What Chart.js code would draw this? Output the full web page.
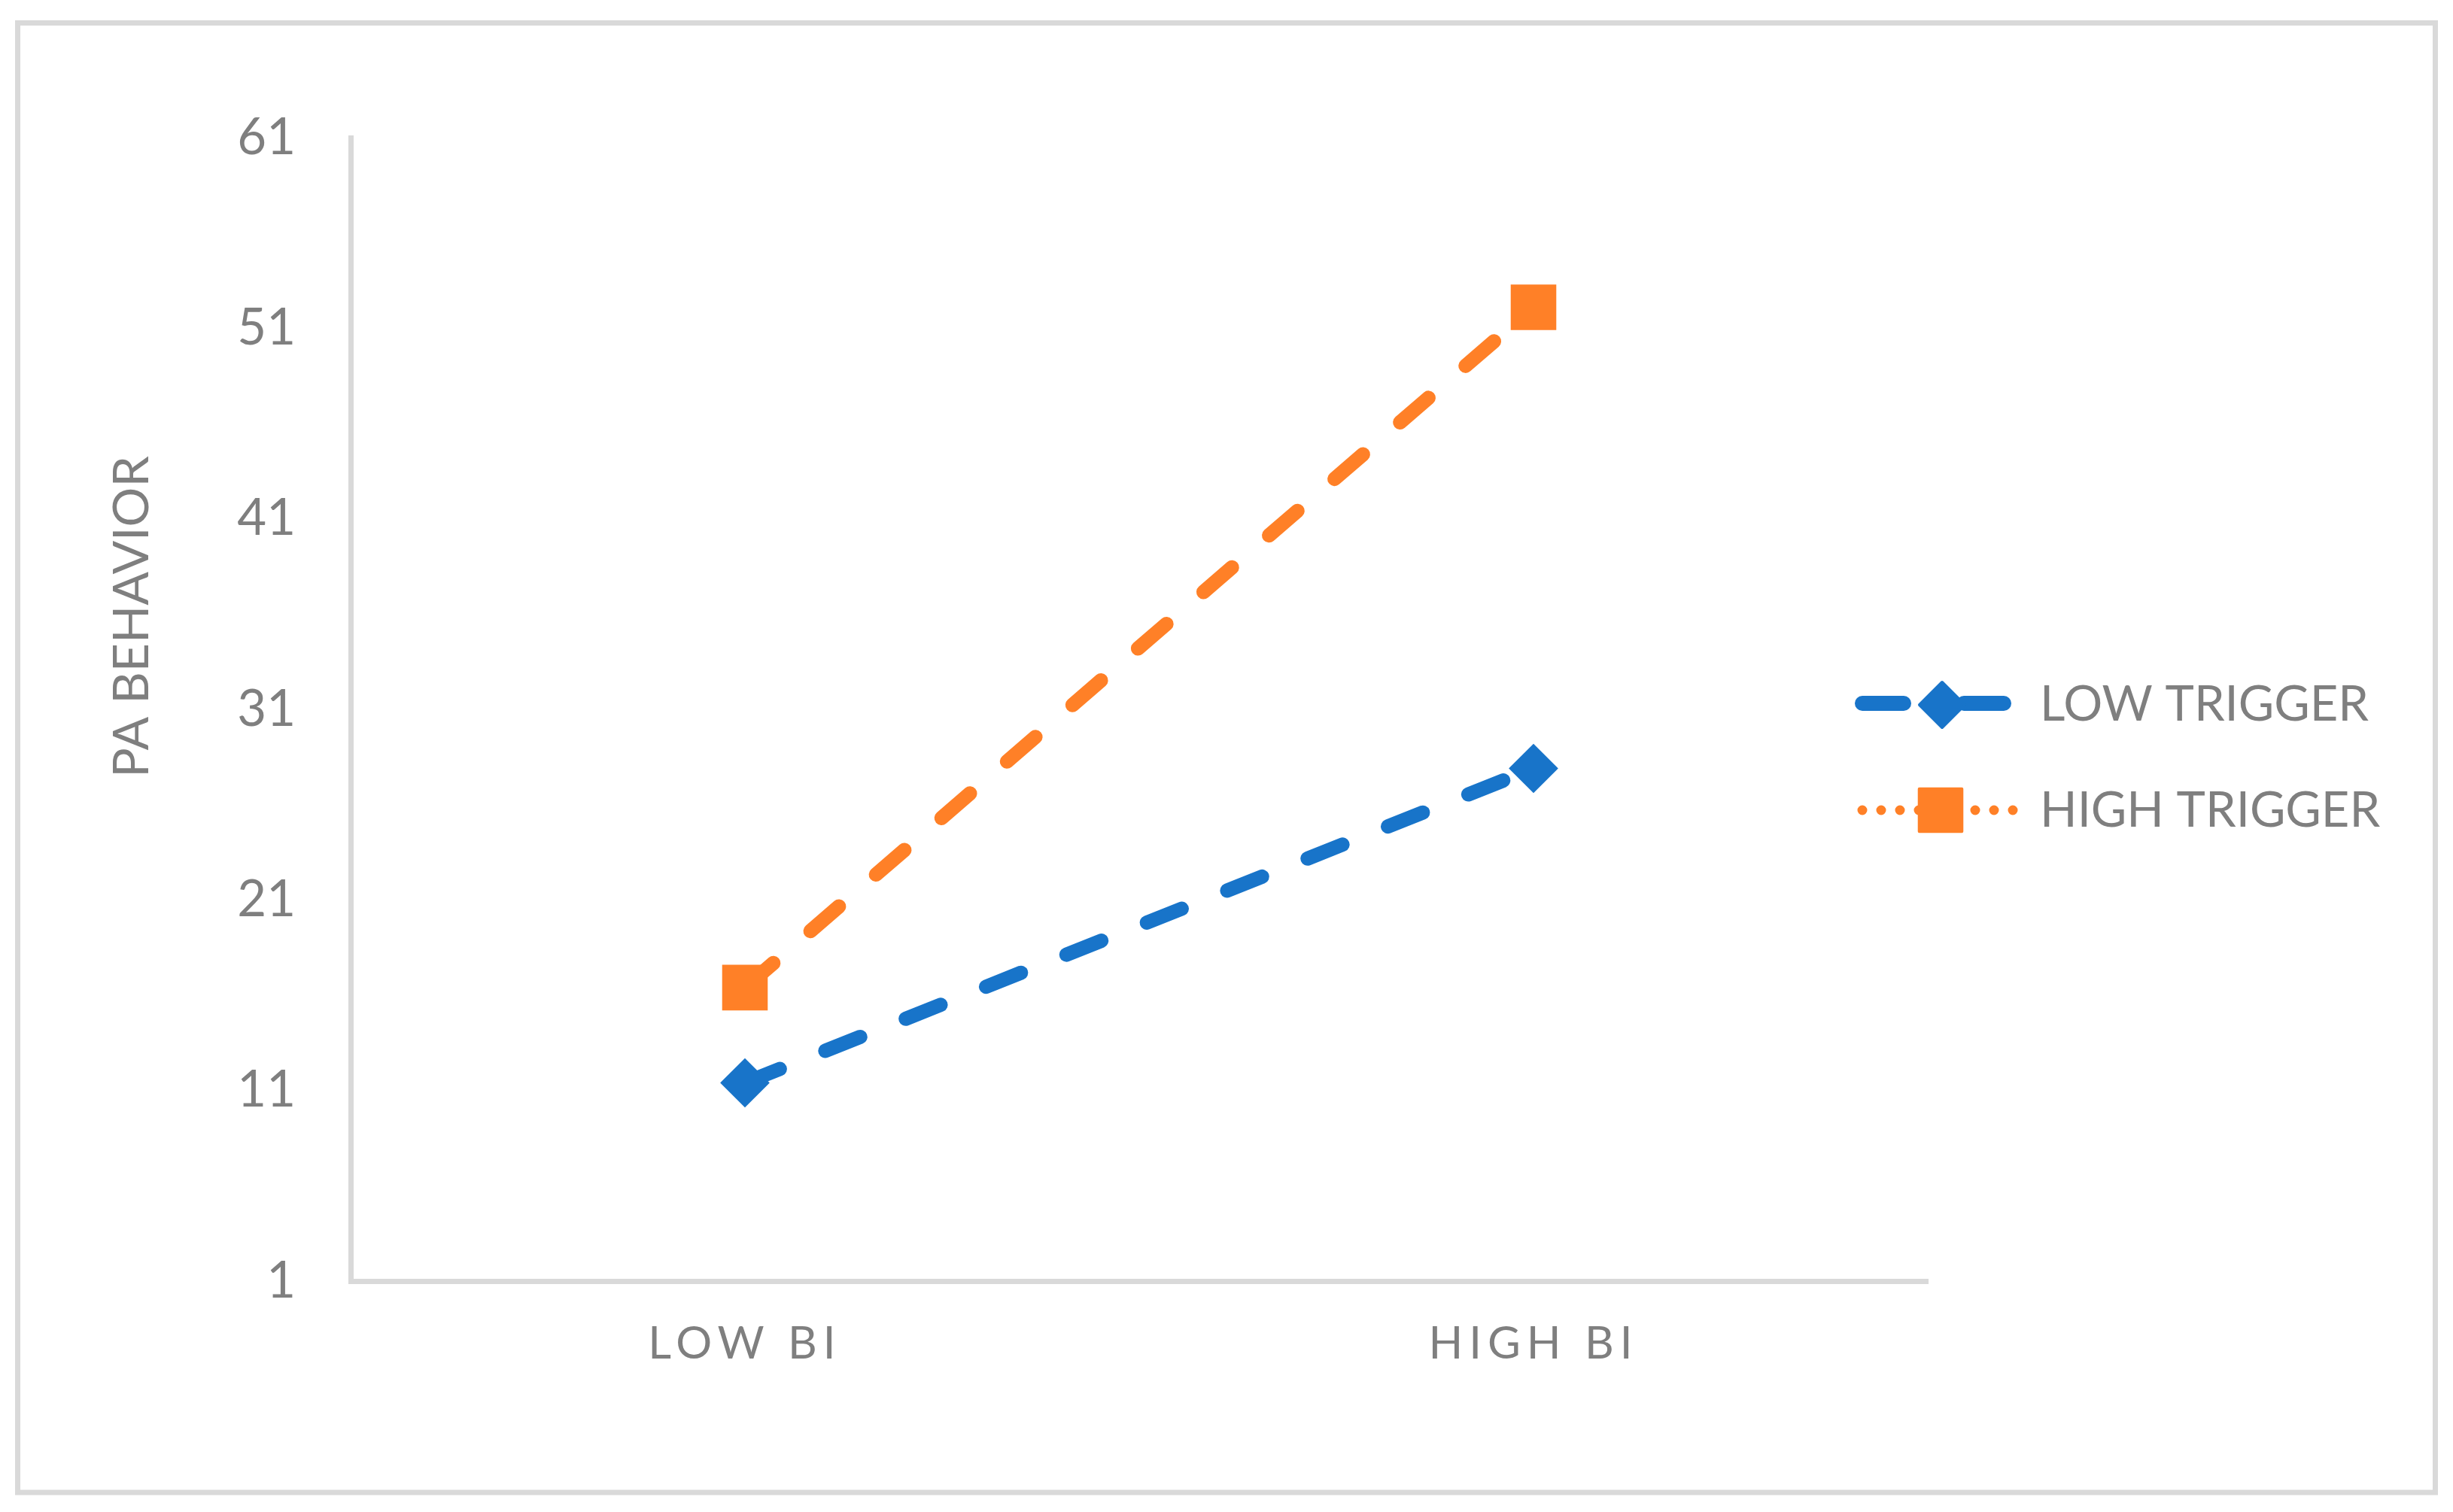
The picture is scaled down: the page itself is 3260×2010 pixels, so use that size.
<!DOCTYPE html>
<html><head><meta charset="utf-8">
<script src="https://cdn.jsdelivr.net/npm/chart.js@4.4.1/dist/chart.umd.min.js"></script>
<style>html,body{margin:0;padding:0;background:#fff;overflow:hidden;} canvas{display:block;}</style>
</head><body>
<canvas id="c" width="3260" height="2010"></canvas>
<script>
// ---- data ----
const categories = ['LOW BI', 'HIGH BI'];
const seriesNames = ['LOW TRIGGER', 'HIGH TRIGGER'];
const lowTrigger = [11.4, 27.9];
const highTrigger = [16.4, 52.1];
const yTicks = [1, 11, 21, 31, 41, 51, 61];
const yTitle = 'PA BEHAVIOR';

// ---- style ----
const BLUE = '#1874C9', ORANGE = '#FF8027', GRAY = '#7F7F7F', LINE = '#D9D9D9';
const FONT = 'Lato, "Open Sans", sans-serif';
Chart.defaults.font.family = FONT;
Chart.defaults.color = GRAY;

const legendStyles = [
  { dash: [55, 80], width: 20, from: 2475, to: 2663, y: 935, px: 2581, py: 937, textY: 958 },
  { dash: [0, 25], width: 13, from: 2475, to: 2676, y: 1077, px: 2579, py: 1077, textY: 1099 }
];

function drawMarker(ctx, style, r, x, y) {
  if (Chart.helpers && Chart.helpers.drawPoint) {
    Chart.helpers.drawPoint(ctx, { pointStyle: style, radius: r, borderWidth: 4, rotation: 0 }, x, y);
    return;
  }
  ctx.beginPath();
  if (style === 'rectRot') {
    ctx.moveTo(x - r, y); ctx.lineTo(x, y - r); ctx.lineTo(x + r, y); ctx.lineTo(x, y + r);
  } else {
    const s = r * Math.SQRT1_2; ctx.rect(x - s, y - s, 2 * s, 2 * s);
  }
  ctx.closePath(); ctx.fill(); ctx.stroke();
}

const framePlugin = {
  id: 'frame',
  beforeDraw(chart) {
    const ctx = chart.ctx;
    ctx.save();
    ctx.fillStyle = '#FFFFFF';
    ctx.fillRect(0, 0, chart.width, chart.height);
    ctx.strokeStyle = LINE;
    ctx.lineWidth = 7;
    ctx.strokeRect(23.5, 30.5, 3213, 1953.5);
    ctx.restore();
  },
  afterLayout(chart) {
    const s = chart.scales.x;
    if (s && !s._lsPatched) {
      const orig = s.drawLabels.bind(s);
      s.drawLabels = function (ca) {
        const ctx = this.ctx;
        ctx.save();
        try { ctx.letterSpacing = '8px'; } catch (e) {}
        orig(ca);
        ctx.restore();
      };
      s._lsPatched = true;
    }
  },
  afterDraw(chart) {
    const ctx = chart.ctx;
    const ca = chart.chartArea;
    // y-axis title
    ctx.save();
    ctx.fillStyle = GRAY;
    ctx.font = '66px ' + FONT;
    ctx.textAlign = 'center';
    ctx.textBaseline = 'alphabetic';
    ctx.translate(197, ca.top + (ca.bottom - ca.top) / 2 - 123);
    ctx.rotate(-Math.PI / 2);
    ctx.fillText(yTitle, 0, 0);
    ctx.restore();
    // legend
    chart.data.datasets.forEach((ds, i) => {
      const st = legendStyles[i];
      ctx.save();
      ctx.strokeStyle = ds.borderColor;
      ctx.lineWidth = st.width;
      ctx.lineCap = 'round';
      ctx.setLineDash(st.dash);
      ctx.beginPath();
      ctx.moveTo(st.from, st.y);
      ctx.lineTo(st.to, st.y);
      ctx.stroke();
      ctx.setLineDash([]);
      ctx.fillStyle = ds.pointBackgroundColor;
      ctx.strokeStyle = ds.pointBorderColor;
      ctx.lineWidth = 4;
      ctx.lineJoin = 'round';
      drawMarker(ctx, ds.pointStyle, ds.pointRadius, st.px, st.py);
      ctx.fillStyle = GRAY;
      ctx.font = '65px ' + FONT;
      ctx.textAlign = 'left';
      ctx.textBaseline = 'alphabetic';
      ctx.fillText(ds.label, 2711, st.textY);
      ctx.restore();
    });
  }
};

new Chart(document.getElementById('c'), {
  type: 'line',
  data: {
    labels: categories,
    datasets: [
      {
        label: seriesNames[0], data: lowTrigger,
        borderColor: BLUE, borderWidth: 19, borderDash: [50, 65], borderCapStyle: 'round',
        pointStyle: 'rectRot', pointRadius: 30, pointBorderWidth: 4,
        pointBackgroundColor: BLUE, pointBorderColor: BLUE, tension: 0, fill: false
      },
      {
        label: seriesNames[1], data: highTrigger,
        borderColor: ORANGE, borderWidth: 19, borderDash: [50, 65], borderCapStyle: 'round',
        pointStyle: 'rect', pointRadius: 40, pointBorderWidth: 4,
        pointBackgroundColor: ORANGE, pointBorderColor: ORANGE, tension: 0, fill: false
      }
    ]
  },
  options: {
    responsive: false,
    animation: false,
    devicePixelRatio: 1,
    layout: { padding: { left: 0, top: 183, right: 698, bottom: 0 } },
    plugins: { legend: { display: false }, tooltip: { enabled: false }, title: { display: false } },
    scales: {
      x: {
        type: 'category', offset: true,
        grid: { display: false, drawTicks: false },
        border: { display: true, color: LINE, width: 7 },
        ticks: { color: GRAY, font: { size: 60 }, padding: 48, maxRotation: 0, autoSkip: false },
        afterFit(scale) { scale.height = 307; }
      },
      y: {
        type: 'linear', min: 1, max: 61,
        grid: { display: false, drawTicks: false },
        border: { display: true, color: LINE, width: 7 },
        ticks: { color: GRAY, font: { size: 67 }, padding: 73 },
        afterBuildTicks(scale) { scale.ticks = yTicks.map(v => ({ value: v })); },
        afterFit(scale) { scale.width = 466; }
      }
    }
  },
  plugins: [framePlugin]
});
</script>
</body></html>
